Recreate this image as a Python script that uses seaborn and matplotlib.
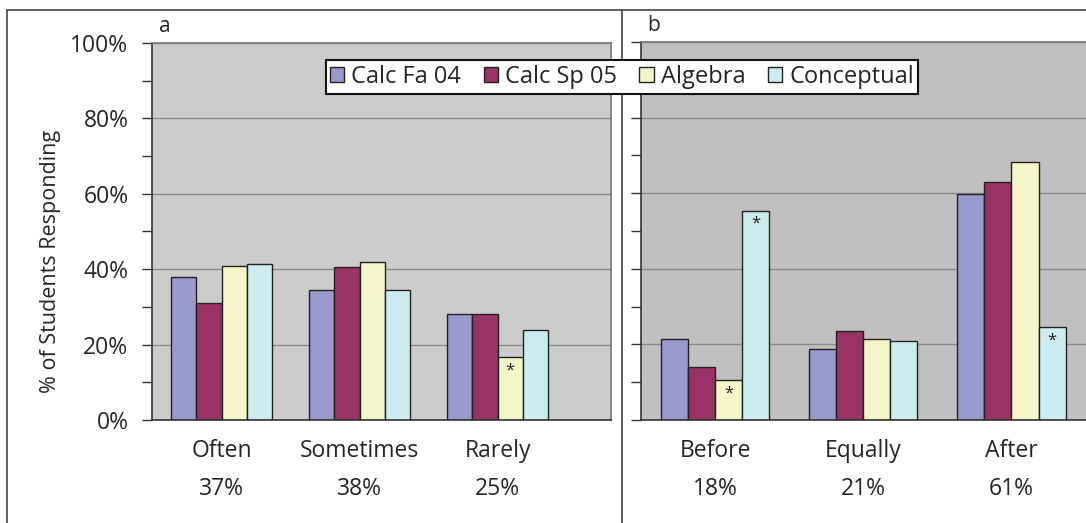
import matplotlib
matplotlib.use("Agg")
import matplotlib.pyplot as plt
from matplotlib.lines import Line2D
from matplotlib.patches import Patch
from matplotlib.ticker import MultipleLocator, PercentFormatter
import pandas as pd
import seaborn as sns

# ---- data ----
courses = ["Calc Fa 04", "Calc Sp 05", "Algebra", "Conceptual"]
course_colors = ["#9999CC", "#993366", "#F5F5CA", "#CDECF0"]

freq_cats = ["Often", "Sometimes", "Rarely"]
freq_share = [37, 38, 25]
freq_vals = {
    "Calc Fa 04": [38.0, 34.6, 28.0],
    "Calc Sp 05": [31.1, 40.5, 28.0],
    "Algebra": [40.9, 42.0, 16.8],
    "Conceptual": [41.4, 34.6, 24.0],
}
freq_stars = [("Rarely", "Algebra")]

when_cats = ["Before", "Equally", "After"]
when_share = [18, 21, 61]
when_vals = {
    "Calc Fa 04": [21.5, 18.9, 59.9],
    "Calc Sp 05": [14.0, 23.6, 62.9],
    "Algebra": [10.6, 21.5, 68.2],
    "Conceptual": [55.4, 21.0, 24.5],
}
when_stars = [("Before", "Algebra"), ("Before", "Conceptual"), ("After", "Conceptual")]

sns.set_theme(style="white")
plt.rcParams["font.family"] = ["Open Sans", "DejaVu Sans"]

W, H = 1086, 523
fig = plt.figure(figsize=(W / 100, H / 100), dpi=100)


def long_table(cats, vals):
    rows = []
    for c in courses:
        for cat, v in zip(cats, vals[c]):
            rows.append({"cat": cat, "course": c, "pct": v})
    return pd.DataFrame(rows)


def draw_panel(ax, cats, share, vals, stars, bg, xlim, label, show_labels):
    df = long_table(cats, vals)
    sns.barplot(data=df, x="cat", y="pct", hue="course", order=cats,
                hue_order=courses, palette=course_colors, width=0.73,
                edgecolor="#222222", linewidth=1.0, saturation=1,
                legend=False, ax=ax)
    ax.set_facecolor(bg)
    ax.set_ylim(0, 100)
    ax.set_xlim(*xlim)
    ax.yaxis.set_major_locator(MultipleLocator(20))
    ax.yaxis.set_minor_locator(MultipleLocator(10))
    ax.yaxis.set_major_formatter(PercentFormatter(decimals=0))
    ax.grid(axis="y", which="major", color="#8a8a8a", linewidth=1.0)
    ax.set_axisbelow(True)
    ax.tick_params(axis="y", which="both", left=True, direction="out",
                   length=7, width=1, color="#333333", labelsize=16.5, pad=10,
                   labelleft=show_labels)
    ax.tick_params(axis="x", bottom=False, pad=8, labelsize=16.5)
    ax.set_xticks(range(len(cats)))
    ax.set_xticklabels([f"{c}\n{s}%" for c, s in zip(cats, share)],
                       linespacing=1.75)
    ax.set_xlabel("")
    ax.set_ylabel("")
    for side in ["left", "bottom"]:
        ax.spines[side].set_color("#333333")
        ax.spines[side].set_linewidth(1.2)
    for side in ["top", "right"]:
        ax.spines[side].set_color("#777777")
        ax.spines[side].set_linewidth(1.2)
    # significance stars
    for cat, course in stars:
        bar = ax.containers[courses.index(course)][cats.index(cat)]
        ax.annotate("*", (bar.get_x() + bar.get_width() / 2, bar.get_height()),
                    xytext=(0, -4), textcoords="offset points",
                    ha="center", va="top", fontsize=12, color="#222222")
    ax.text(0.015, 1.015, label, transform=ax.transAxes, fontsize=15,
            ha="left", va="bottom")


ax_a = fig.add_axes([152 / W, 1 - 420 / H, (611 - 152) / W, (420 - 43) / H])
ax_b = fig.add_axes([641 / W, 1 - 420 / H, (1090 - 641) / W, (420 - 42) / H])

draw_panel(ax_a, freq_cats, freq_share, freq_vals, freq_stars, "#CCCCCC",
           (-0.504, 2.822), "a", True)
draw_panel(ax_b, when_cats, when_share, when_vals, when_stars, "#C0C0C0",
           (-0.5, 2.53), "b", False)
ax_a.set_ylabel("% of Students Responding", fontsize=15.5)
ax_a.yaxis.set_label_coords(-0.198, 0.42)

# outer frame and divider
frame_kw = dict(color="#444444", linewidth=1.2, transform=fig.transFigure)
fig.add_artist(Line2D([7 / W, 1], [1 - 10 / H] * 2, **frame_kw))
fig.add_artist(Line2D([7 / W] * 2, [0, 1 - 10 / H], **frame_kw))
fig.add_artist(Line2D([622 / W] * 2, [0, 1 - 10 / H], **frame_kw))

handles = [Patch(facecolor=c, edgecolor="#222222", linewidth=1.0)
           for c in course_colors]
leg = fig.legend(handles, courses, ncol=4, loc="center",
                 bbox_to_anchor=(622 / W, 1 - 77 / H), fontsize=17,
                 frameon=True, fancybox=False, framealpha=1,
                 edgecolor="#111111", handlelength=0.6, handleheight=0.6,
                 handletextpad=0.3, columnspacing=0.95, borderpad=0.2,
                 borderaxespad=0)
leg.get_frame().set_linewidth(1.5)

fig.savefig("out.png", dpi=100)
